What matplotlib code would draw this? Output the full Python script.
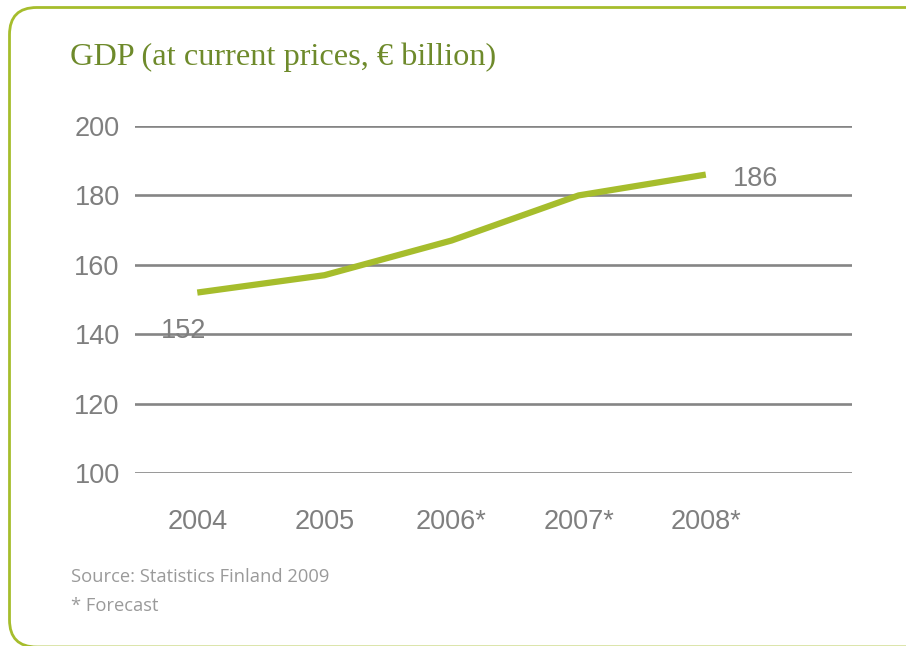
import numpy as np
import matplotlib
matplotlib.use("Agg")
import matplotlib.pyplot as plt
from matplotlib.patches import FancyBboxPatch

years = ["2004", "2005", "2006*", "2007*", "2008*"]
gdp = [152, 157, 167, 180, 186]
yticks = [100, 120, 140, 160, 180, 200]

green = "#a6bd2c"
gray = "#7f7f7f"

fig = plt.figure(figsize=(9.06, 6.46), dpi=100)
W, H = 906, 646

# rounded frame, open to the right and bottom like the clipped reference
frame = FancyBboxPatch((9.5 / W, -1.0 / H), 1.2, (638.5 + 1.0) / H,
                       boxstyle="round,pad=0,rounding_size=0.03",
                       transform=fig.transFigure, fill=False,
                       edgecolor=green, linewidth=2.0, clip_on=False,
                       mutation_aspect=W / H)
fig.patches.append(frame)

fig.text(70 / W, 1 - 57 / H, "GDP (at current prices, \u20ac billion)",
         family="Liberation Serif", fontsize=23.3, color="#6e8a2b",
         va="center", ha="left")

ax = fig.add_axes([135 / W, 1 - 473 / H, (852 - 135) / W, (473 - 126) / H])
x = np.arange(len(years))
ax.set_ylim(100, 200)
ax.set_xlim(-0.49, 5.15)
ax.set_yticks(yticks)
for v in yticks:
    ax.axhline(v, color="#858585", linewidth=1.9, zorder=1)
ax.plot(x, gdp, color=green, linewidth=4.5, solid_capstyle="butt", zorder=3)

ax.annotate(str(gdp[0]), (x[0], gdp[0]), xytext=(-14, -38),
            textcoords="offset pixels", ha="center", va="center",
            fontsize=19.5, color=gray, family="Liberation Sans", zorder=4)
ax.annotate(str(gdp[-1]), (x[-1], gdp[-1]), xytext=(50, -4),
            textcoords="offset pixels", ha="center", va="center",
            fontsize=19.5, color=gray, family="Liberation Sans", zorder=4)

ax.set_xticks(x)
ax.set_xticklabels(years)
for s in ax.spines.values():
    s.set_visible(False)
ax.tick_params(length=0, labelsize=19.5, labelcolor=gray)
ax.tick_params(axis="x", pad=26)
ax.tick_params(axis="y", pad=11)
for lab in ax.get_xticklabels() + ax.get_yticklabels():
    lab.set_family("Liberation Sans")

fig.text(71 / W, 1 - 577 / H, "Source: Statistics Finland 2009",
         family="Open Sans", fontsize=13.2, color="#9a9a9a", va="center")
fig.text(71 / W, 1 - 606 / H, "* Forecast",
         family="Open Sans", fontsize=13.2, color="#9a9a9a", va="center")

fig.savefig("out.png", dpi=100)
